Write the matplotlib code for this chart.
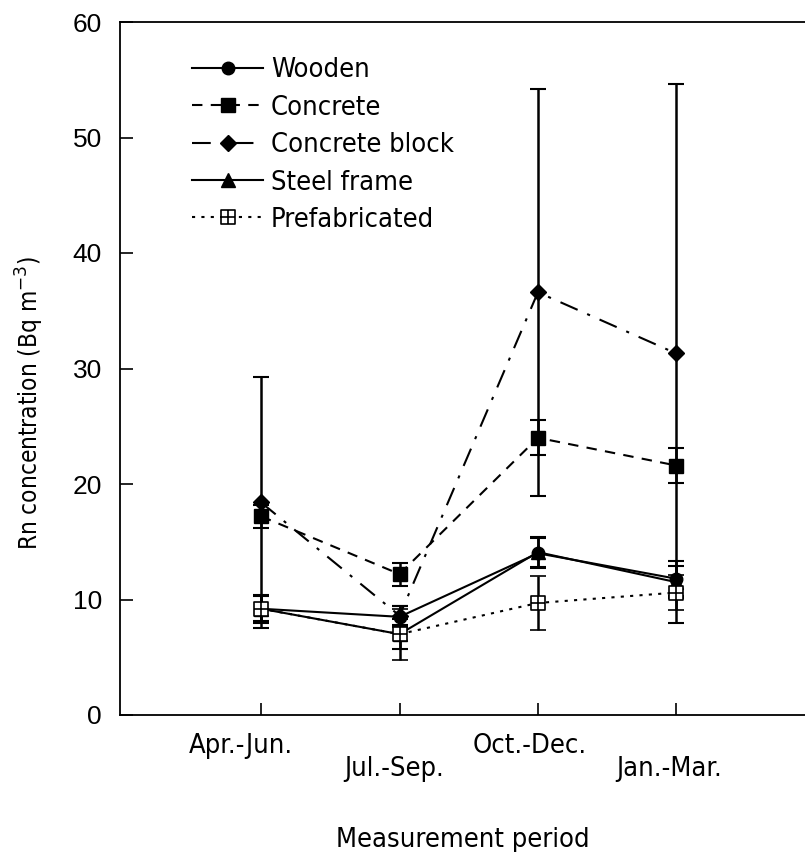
import numpy as np
import matplotlib
matplotlib.use("Agg")
import matplotlib.pyplot as plt
from matplotlib.path import Path

# Seasonal Rn concentration by building type
periods = ["Apr.-Jun.", "Jul.-Sep.", "Oct.-Dec.", "Jan.-Mar."]
wooden = [9.2, 8.5, 14.0, 11.8]
wooden_err = [1.2, 0.9, 1.3, 1.5]
concrete = [17.2, 12.2, 24.0, 21.6]
concrete_err = [1.0, 1.0, 1.5, 1.5]
block = [18.4, 8.6, 36.6, 31.3]
block_err = [10.9, 0.8, 17.6, 23.3]
steel = [9.2, 7.0, 14.1, 11.5]
steel_err = [1.1, 1.3, 1.3, 1.4]
prefab = [9.2, 7.0, 9.7, 10.6]
prefab_err = [1.1, 2.2, 2.3, 1.5]

font = dict(family="DejaVu Sans", stretch="condensed", size=19.5)

# open square with a cross inside
box_plus = Path(
    [(-1, -1), (1, -1), (1, 1), (-1, 1), (-1, -1),
     (-1, 0), (1, 0), (0, -1), (0, 1)],
    [Path.MOVETO, Path.LINETO, Path.LINETO, Path.LINETO, Path.CLOSEPOLY,
     Path.MOVETO, Path.LINETO, Path.MOVETO, Path.LINETO])

x = np.arange(1, len(periods) + 1)

fig = plt.figure(figsize=(8.05, 8.52), dpi=100)
ax = fig.add_axes([120 / 805, 137 / 852, 1 - 120 / 805, 693 / 852])

series = [
    ("Wooden", wooden, wooden_err, dict(ls="-", marker="o", ms=9, mfc="k")),
    ("Concrete", concrete, concrete_err, dict(ls=(0, (5, 4)), marker="s", ms=10, mfc="k")),
    ("Concrete block", block, block_err, dict(ls=(0, (9, 5, 1.5, 5)), marker="D", ms=8, mfc="k")),
    ("Steel frame", steel, steel_err, dict(ls="-", marker="^", ms=10, mfc="k")),
    ("Prefabricated", prefab, prefab_err, dict(ls=(0, (1.5, 3)), marker=box_plus, ms=10, mfc="w", mew=1.2)),
]

handles = []
for label, vals, errs, style in series:
    cont = ax.errorbar(x, vals, yerr=errs, color="k", lw=1.5, elinewidth=1.8,
                       capsize=6, capthick=1.5, mec="k", label=label, **style)
    handles.append(cont.lines[0])

ax.set_xlim(-0.02, 4.93)
ax.set_ylim(0, 60)
ax.set_yticks(np.arange(0, 61, 10))
ax.set_xticks(x)
ax.set_xticklabels([])
ax.tick_params(axis="both", direction="in", length=9, width=1.2)
ax.tick_params(axis="y", labelsize=19, pad=13)
for lab in ax.get_yticklabels():
    lab.set_fontfamily("Liberation Sans")
ax.spines["right"].set_visible(False)
for s in ["left", "top", "bottom"]:
    ax.spines[s].set_linewidth(1.3)

# staggered period labels under the axis
shifts = [-0.15, -0.04, -0.06, -0.05]
for i, name in enumerate(periods):
    off = -0.045 if i % 2 == 0 else -0.078
    ax.text(x[i] + shifts[i], off, name, transform=ax.get_xaxis_transform(),
            ha="center", va="center", **font)

ax.set_xlabel("Measurement period", labelpad=77, **font)
ax.set_ylabel("Rn concentration (Bq m$^{-3}$)", family="DejaVu Sans",
              stretch="condensed", size=17.5)
ax.yaxis.set_label_coords(-0.108, 0.45)

ax.legend(handles, [s[0] for s in series], loc="upper left",
          bbox_to_anchor=(0.07, 0.984), frameon=False, prop=font,
          handlelength=2.6, handletextpad=0.3, labelspacing=0.42)

fig.savefig("out.png", dpi=100)
